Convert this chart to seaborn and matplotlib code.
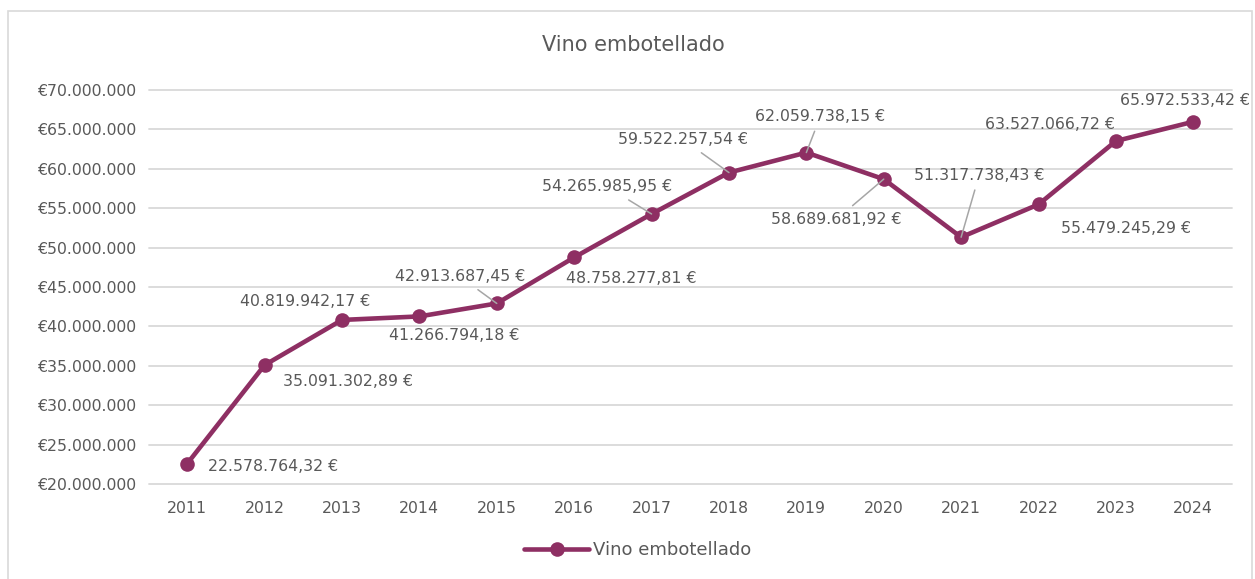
import matplotlib
matplotlib.use("Agg")
import matplotlib.pyplot as plt
from matplotlib.patches import Rectangle
from matplotlib.ticker import FuncFormatter
import seaborn as sns
import pandas as pd

years = [2011, 2012, 2013, 2014, 2015, 2016, 2017, 2018, 2019, 2020, 2021, 2022, 2023, 2024]
values = [22578764.32, 35091302.89, 40819942.17, 41266794.18, 42913687.45, 48758277.81,
          54265985.95, 59522257.54, 62059738.15, 58689681.92, 51317738.43, 55479245.29,
          63527066.72, 65972533.42]
series_name = "Vino embotellado"
title = "Vino embotellado"

# label offsets (pixels) from each point, and whether a leader line is drawn
label_dx = [86, 83, -37, 35, -37, 57, -44, -46, 14, -47, 18, 87, -66, -8]
label_dy = [-3, -16, 18, -19, 27, -21, 27, 33, 36, -40, 62, -24, 17, 21]
leaders = [False, False, False, False, True, False, True, True, True, True, True, False, False, False]

sns.set_theme(style="white")
plt.rcParams['font.family'] = ['DejaVu Sans']

color = "#8E2F63"
text_col = "#595959"

fig = plt.figure(figsize=(12.55, 5.79), dpi=100)
ax = fig.add_axes([148.5 / 1255, 1 - 484 / 579, (1232 - 148.5) / 1255, (484 - 90) / 579])

df = pd.DataFrame({"year": years, "value": values, "serie": series_name})
sns.lineplot(data=df, x="year", y="value", hue="serie", palette=[color], marker="o",
             markersize=10.5, linewidth=3.3, markeredgewidth=0, ax=ax, legend=True, zorder=3)

ax.set_xlim(years[0] - 0.5, years[-1] + 0.5)
ax.set_ylim(20000000, 70000000)
ax.set_yticks(range(20000000, 70000001, 5000000))
ax.set_xticks(years)
ax.yaxis.set_major_formatter(FuncFormatter(lambda v, p: "€" + f"{v:,.0f}".replace(",", ".")))
ax.grid(axis="y", color="#D9D9D9", lw=1.3)
ax.grid(axis="x", visible=False)
for gl in ax.get_ygridlines():
    gl.set_clip_on(False)
for s in ax.spines.values():
    s.set_visible(False)
ax.tick_params(axis="both", length=0, labelsize=11.3, colors=text_col, pad=8)
ax.tick_params(axis="x", pad=12)
ax.set_xlabel("")
ax.set_ylabel("")

def fmt(v):
    s = f"{v:,.2f}"
    s = s.replace(",", "X").replace(".", ",").replace("X", ".")
    return s + " €"

for i, (yr, v) in enumerate(zip(years, values)):
    kw = {}
    if leaders[i]:
        kw["arrowprops"] = dict(arrowstyle="-", color="#A6A6A6", lw=1.1, shrinkA=3, shrinkB=0)
    ax.annotate(fmt(v), xy=(yr, v), xytext=(label_dx[i], label_dy[i]), textcoords="offset pixels",
                ha="center", va="center", fontsize=11.3, color=text_col, zorder=5, **kw)

fig.text(0.505, 1 - 45 / 579, title, ha="center", va="center", fontsize=15, color=text_col)

leg = ax.legend(loc="center", bbox_to_anchor=(0.508, 0.05), bbox_transform=fig.transFigure,
                frameon=False, fontsize=13, handlelength=3.6, handletextpad=0.2,
                labelcolor=text_col)

fig.patches.append(Rectangle((7.5 / 1255, -0.05), (1251.5 - 7.5) / 1255, 1.05 - 10.5 / 579,
                             transform=fig.transFigure, fill=False, edgecolor="#D9D9D9", lw=1.2))

fig.savefig("out.png", dpi=100)
